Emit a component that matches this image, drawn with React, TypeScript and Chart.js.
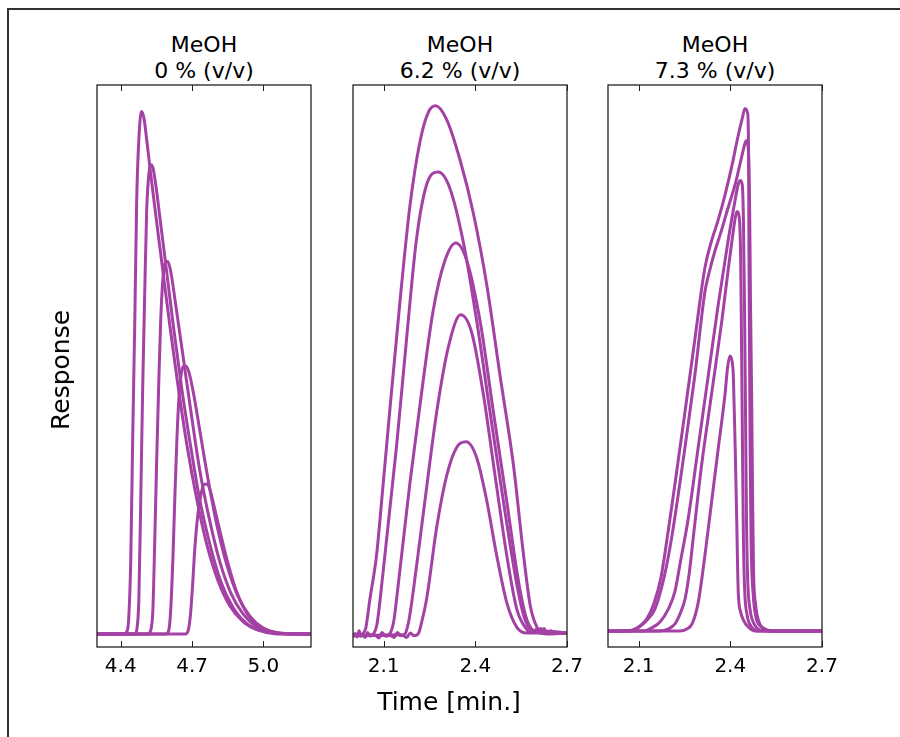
import React, { useEffect, useRef } from 'react';
import { Chart, registerables } from 'chart.js';

Chart.register(...registerables);
Chart.defaults.font.family = "'DejaVu Sans', sans-serif";

type Pt = [number, number];

const LINE_COLOR = '#A441A4';
const Y_MIN = 0;
const Y_MAX = 100;

// ---------- Panel 1: MeOH 0 % (v/v) ----------
const TITLE_0 = ['MeOH', '0 % (v/v)'];
const X_RANGE_0: [number, number] = [4.3, 5.2];
const X_TICKS_0 = [4.4, 4.7, 5.0];
const MEOH0_RUN1: Pt[] = [[4.30,2.3],[4.412,2.3],[4.425,2.7],[4.433,4.8],[4.442,15.5],[4.450,36.9],[4.459,58.2],[4.467,79.6],[4.476,90.3],[4.487,95.3],[4.497,94.2],[4.509,90.3],[4.526,84.1],[4.547,76.9],[4.572,68.6],[4.606,57.3],[4.640,46.7],[4.678,36.0],[4.720,26.2],[4.762,18.2],[4.808,11.9],[4.859,7.3],[4.914,4.5],[4.977,3.0],[5.061,2.5],[5.20,2.3]];
const MEOH0_RUN2: Pt[] = [[4.30,2.3],[4.459,2.3],[4.467,3.0],[4.476,8.4],[4.484,26.2],[4.492,45.8],[4.501,63.6],[4.509,77.8],[4.518,84.1],[4.526,85.8],[4.535,85.3],[4.547,82.3],[4.568,75.2],[4.593,66.8],[4.623,56.5],[4.657,45.8],[4.695,35.4],[4.732,26.2],[4.775,18.2],[4.821,11.6],[4.871,7.1],[4.926,4.3],[4.993,2.85],[5.078,2.3],[5.20,2.3]];
const MEOH0_RUN3: Pt[] = [[4.30,2.3],[4.513,2.3],[4.526,3.0],[4.535,6.6],[4.543,19.1],[4.551,33.3],[4.560,47.5],[4.568,58.2],[4.577,65.4],[4.587,68.4],[4.598,68.6],[4.610,66.8],[4.631,60.9],[4.661,52.0],[4.695,41.9],[4.732,31.5],[4.775,22.3],[4.817,15.1],[4.863,9.6],[4.914,5.9],[4.968,3.7],[5.027,2.7],[5.111,2.3],[5.20,2.3]];
const MEOH0_RUN4: Pt[] = [[4.30,2.3],[4.589,2.3],[4.602,3.0],[4.610,6.6],[4.619,15.5],[4.627,26.2],[4.636,36.9],[4.644,44.0],[4.652,47.9],[4.663,49.9],[4.673,50.0],[4.686,49.0],[4.707,44.9],[4.732,38.6],[4.766,30.1],[4.804,21.7],[4.846,14.6],[4.892,9.1],[4.943,5.5],[4.998,3.4],[5.061,2.5],[5.20,2.3]];
const MEOH0_RUN5: Pt[] = [[4.30,2.3],[4.671,2.3],[4.684,3.0],[4.693,5.7],[4.702,11.0],[4.711,17.3],[4.724,23.5],[4.737,27.1],[4.749,28.9],[4.762,29.0],[4.775,28.0],[4.796,24.4],[4.821,19.9],[4.850,15.0],[4.884,10.2],[4.922,6.6],[4.968,4.1],[5.027,2.85],[5.111,2.3],[5.20,2.3]];

// ---------- Panel 2: MeOH 6.2 % (v/v) ----------
const TITLE_62 = ['MeOH', '6.2 % (v/v)'];
const X_RANGE_62: [number, number] = [2.0, 2.7];
const X_TICKS_62 = [2.1, 2.4, 2.7];
const MEOH62_RUN1: Pt[] = [[2.000,2.0],[2.008,2.4],[2.014,1.8],[2.020,2.9],[2.026,1.9],[2.033,2.4],[2.042,3.4],[2.055,8.4],[2.077,16.3],[2.097,28.0],[2.120,41.9],[2.153,61.1],[2.186,78.4],[2.219,89.9],[2.246,95.1],[2.270,96.3],[2.306,93.9],[2.350,86.7],[2.394,77.1],[2.438,64.3],[2.481,48.3],[2.525,32.3],[2.558,16.3],[2.580,7.3],[2.602,3.5],[2.615,2.9],[2.625,3.3],[2.634,2.5],[2.648,2.9],[2.660,2.4],[2.700,2.5]];
const MEOH62_RUN2: Pt[] = [[2.000,2.0],[2.030,2.2],[2.040,1.7],[2.048,2.6],[2.056,1.9],[2.066,2.3],[2.078,3.9],[2.098,13.1],[2.142,35.5],[2.175,54.7],[2.208,72.7],[2.241,82.3],[2.279,84.5],[2.317,81.6],[2.361,72.0],[2.405,57.9],[2.448,41.9],[2.492,25.9],[2.536,11.1],[2.563,4.8],[2.590,2.85],[2.605,3.2],[2.620,2.4],[2.634,2.8],[2.700,2.5]];
const MEOH62_RUN3: Pt[] = [[2.000,2.0],[2.070,2.2],[2.085,1.6],[2.095,2.6],[2.107,1.9],[2.120,2.3],[2.133,4.5],[2.148,11.1],[2.186,29.1],[2.224,45.1],[2.262,59.8],[2.301,68.8],[2.336,71.9],[2.372,68.8],[2.416,57.9],[2.459,41.9],[2.503,25.9],[2.541,11.8],[2.569,4.8],[2.602,2.7],[2.615,3.3],[2.630,2.3],[2.700,2.5]];
const MEOH62_RUN4: Pt[] = [[2.000,2.0],[2.120,2.1],[2.135,1.7],[2.145,2.6],[2.156,2.0],[2.170,2.3],[2.183,4.8],[2.197,9.9],[2.235,25.9],[2.274,41.9],[2.312,53.4],[2.352,59.1],[2.388,56.0],[2.426,45.1],[2.465,30.4],[2.503,16.3],[2.536,6.7],[2.569,3.1],[2.585,2.6],[2.600,3.1],[2.615,2.4],[2.700,2.5]];
const MEOH62_RUN5: Pt[] = [[2.000,2.0],[2.160,2.2],[2.175,1.7],[2.188,2.5],[2.199,2.0],[2.213,2.3],[2.225,4.5],[2.241,8.6],[2.274,21.4],[2.306,30.4],[2.339,35.5],[2.370,36.5],[2.405,33.6],[2.438,25.9],[2.470,16.3],[2.503,7.9],[2.536,3.5],[2.569,2.5],[2.700,2.5]];

// ---------- Panel 3: MeOH 7.3 % (v/v) ----------
const TITLE_73 = ['MeOH', '7.3 % (v/v)'];
const X_RANGE_73: [number, number] = [2.0, 2.7];
const X_TICKS_73 = [2.1, 2.4, 2.7];
const MEOH73_RUN1: Pt[] = [[2.000,2.85],[2.078,3.0],[2.104,3.7],[2.127,5.0],[2.150,7.7],[2.173,12.3],[2.196,20.3],[2.219,29.0],[2.252,41.9],[2.284,54.7],[2.317,67.5],[2.340,72.5],[2.360,75.9],[2.383,80.5],[2.406,85.8],[2.425,90.8],[2.439,94.0],[2.448,95.8],[2.457,94.9],[2.460,86.7],[2.461,70.7],[2.463,52.9],[2.465,35.1],[2.468,19.1],[2.475,9.3],[2.484,5.3],[2.501,3.6],[2.530,2.85],[2.700,2.85]];
const MEOH73_RUN2: Pt[] = [[2.000,2.85],[2.071,2.85],[2.098,3.45],[2.124,4.6],[2.153,6.7],[2.183,12.3],[2.208,19.4],[2.252,35.6],[2.284,48.3],[2.317,63.2],[2.334,67.3],[2.350,70.5],[2.370,73.9],[2.393,78.2],[2.416,82.3],[2.435,86.7],[2.445,89.0],[2.452,90.1],[2.458,89.2],[2.463,79.6],[2.466,61.8],[2.470,44.0],[2.473,26.2],[2.476,13.7],[2.483,7.5],[2.494,4.45],[2.514,3.2],[2.547,2.85],[2.700,2.85]];
const MEOH73_RUN3: Pt[] = [[2.000,2.85],[2.120,2.85],[2.143,3.4],[2.170,4.45],[2.196,6.6],[2.219,9.9],[2.238,15.5],[2.262,22.7],[2.295,35.5],[2.328,48.3],[2.361,61.1],[2.394,72.7],[2.416,79.6],[2.425,82.1],[2.432,83.0],[2.439,82.3],[2.443,76.0],[2.447,58.2],[2.450,40.4],[2.453,22.6],[2.457,11.9],[2.465,6.6],[2.478,4.1],[2.498,3.0],[2.530,2.85],[2.700,2.85]];
const MEOH73_RUN4: Pt[] = [[2.000,2.85],[2.170,2.85],[2.196,3.2],[2.219,4.1],[2.238,6.2],[2.252,8.55],[2.265,12.8],[2.279,19.5],[2.306,32.3],[2.339,45.1],[2.372,57.9],[2.394,67.5],[2.409,73.7],[2.417,76.6],[2.422,77.5],[2.429,76.6],[2.434,68.9],[2.437,52.9],[2.440,35.1],[2.443,19.1],[2.447,10.2],[2.455,5.7],[2.468,3.7],[2.491,2.85],[2.700,2.85]];
const MEOH73_RUN5: Pt[] = [[2.000,2.85],[2.235,2.85],[2.258,3.2],[2.275,4.1],[2.295,7.9],[2.317,16.3],[2.339,25.9],[2.361,35.5],[2.383,45.1],[2.391,49.7],[2.399,51.8],[2.406,50.8],[2.410,48.3],[2.416,35.5],[2.421,22.7],[2.426,9.9],[2.434,6.2],[2.443,4.8],[2.458,3.6],[2.481,2.85],[2.700,2.85]];

const Y_LABEL = 'Response';
const X_LABEL = 'Time [min.]';

const FONT = "'DejaVu Sans', sans-serif";
const PADX = 30;
const PADT = 10;
const AXH = 48;
const FRAME_TOP = 85;
const FRAME_BOTTOM = 647;

const framePlugin = {
  id: 'mplFrame',
  afterDraw(chart: any) {
    const { ctx, chartArea } = chart;
    const { left, right, top, bottom } = chartArea;
    const xs = chart.scales.x;
    ctx.save();
    ctx.strokeStyle = '#222';
    ctx.lineWidth = 1.3;
    ctx.strokeRect(left, top, right - left, bottom - top);
    ctx.lineWidth = 1;
    ctx.beginPath();
    xs.ticks.forEach((t: any) => {
      const x = Math.round(xs.getPixelForValue(t.value)) + 0.5;
      ctx.moveTo(x, top);
      ctx.lineTo(x, top + 6);
      ctx.moveTo(x, bottom);
      ctx.lineTo(x, bottom - 6);
    });
    ctx.stroke();
    ctx.restore();
  },
};

interface PanelProps {
  left: number;
  right: number;
  title: string[];
  range: [number, number];
  ticks: number[];
  runs: Pt[][];
}

function Panel({ left, right, title, range, ticks, runs }: PanelProps) {
  const ref = useRef<HTMLCanvasElement>(null);
  const w = right - left + 2 * PADX;
  const h = FRAME_BOTTOM - FRAME_TOP + PADT + AXH;
  useEffect(() => {
    const chart = new Chart(ref.current as HTMLCanvasElement, {
      type: 'line',
      data: {
        datasets: runs.map((r) => ({
          data: r.map(([x, y]) => ({ x, y })),
          borderColor: LINE_COLOR,
          borderWidth: 3,
          pointRadius: 0,
          fill: false,
          cubicInterpolationMode: 'monotone' as const,
        })),
      },
      options: {
        animation: false,
        responsive: false,
        devicePixelRatio: 1,
        events: [],
        layout: { padding: { left: PADX, right: PADX, top: PADT, bottom: 0 } },
        plugins: { legend: { display: false }, tooltip: { enabled: false } },
        scales: {
          x: {
            type: 'linear',
            min: range[0],
            max: range[1],
            grid: { display: false, drawTicks: false },
            border: { display: false },
            afterBuildTicks: (axis: any) => {
              axis.ticks = ticks.map((v) => ({ value: v }));
            },
            afterFit: (axis: any) => {
              axis.height = AXH;
            },
            ticks: {
              color: '#000',
              padding: 8,
              maxRotation: 0,
              font: { size: 20, family: FONT },
              callback: (v: any) => Number(v).toFixed(1),
            },
          },
          y: { display: false, min: Y_MIN, max: Y_MAX },
        },
      },
      plugins: [framePlugin],
    } as any);
    return () => chart.destroy();
  }, []);
  const center = (left + right) / 2;
  return (
    <>
      <div
        style={{
          position: 'absolute',
          left: center - 100,
          width: 200,
          top: 32,
          textAlign: 'center',
          font: `22px ${FONT}`,
          lineHeight: '26px',
          color: '#000',
        }}
      >
        {title.map((t, i) => (
          <div key={i}>{t}</div>
        ))}
      </div>
      <canvas
        ref={ref}
        width={w}
        height={h}
        style={{ position: 'absolute', left: left - PADX, top: FRAME_TOP - PADT, width: w, height: h }}
      />
    </>
  );
}

export default function App() {
  return (
    <div
      style={{
        position: 'absolute',
        left: 0,
        top: 0,
        width: 900,
        height: 737,
        background: '#fff',
        overflow: 'hidden',
      }}
    >
      <div
        style={{
          position: 'absolute',
          left: 7,
          top: 8,
          width: 920,
          height: 760,
          border: '2px solid #333',
          boxSizing: 'border-box',
        }}
      />
      <Panel left={97} right={311} title={TITLE_0} range={X_RANGE_0} ticks={X_TICKS_0}
        runs={[MEOH0_RUN1, MEOH0_RUN2, MEOH0_RUN3, MEOH0_RUN4, MEOH0_RUN5]} />
      <Panel left={353} right={567} title={TITLE_62} range={X_RANGE_62} ticks={X_TICKS_62}
        runs={[MEOH62_RUN1, MEOH62_RUN2, MEOH62_RUN3, MEOH62_RUN4, MEOH62_RUN5]} />
      <Panel left={608} right={822} title={TITLE_73} range={X_RANGE_73} ticks={X_TICKS_73}
        runs={[MEOH73_RUN1, MEOH73_RUN2, MEOH73_RUN3, MEOH73_RUN4, MEOH73_RUN5]} />
      <div
        style={{
          position: 'absolute',
          left: 61,
          top: 370,
          transform: 'translate(-50%, -50%) rotate(-90deg)',
          font: `25px ${FONT}`,
          lineHeight: '30px',
          whiteSpace: 'nowrap',
          color: '#000',
        }}
      >
        {Y_LABEL}
      </div>
      <div
        style={{
          position: 'absolute',
          left: 449 - 150,
          width: 300,
          top: 687,
          textAlign: 'center',
          font: `25px ${FONT}`,
          lineHeight: '30px',
          whiteSpace: 'nowrap',
          color: '#000',
        }}
      >
        {X_LABEL}
      </div>
    </div>
  );
}
